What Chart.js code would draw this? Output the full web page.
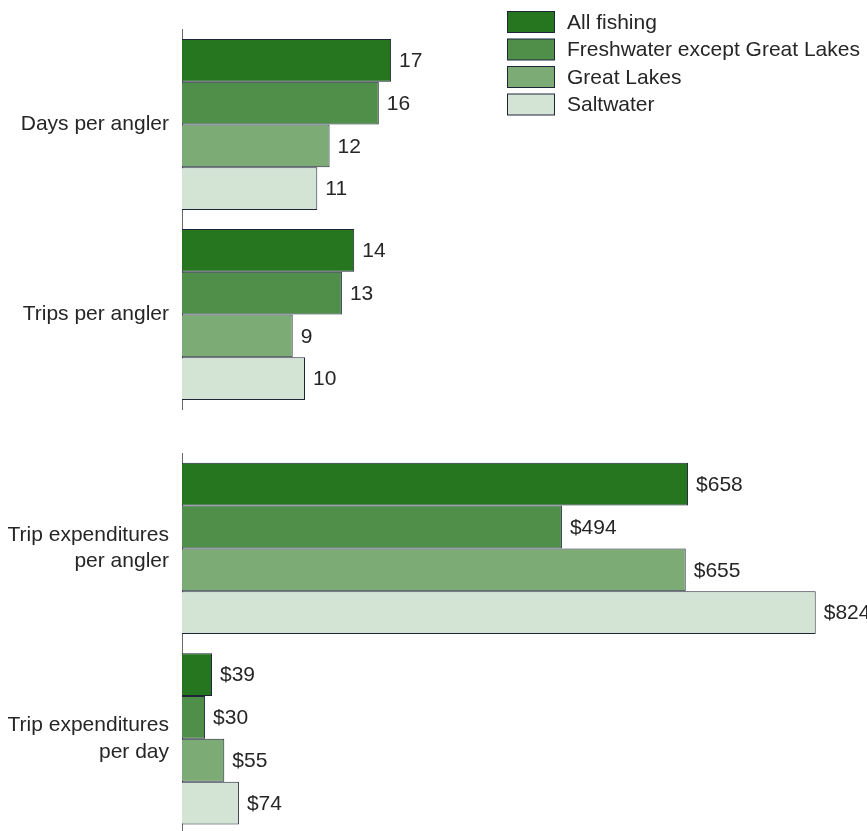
<!DOCTYPE html>
<html>
<head>
<meta charset="utf-8">
<script src="https://cdn.jsdelivr.net/npm/chart.js"></script>
<style>
  html, body { margin: 0; padding: 0; background: #fff; overflow: hidden; width: 867px; height: 831px; }
  canvas { position: absolute; left: 0; }
  #countChart { top: 0; }
  #spendChart { top: 440px; }
</style>
</head>
<body>
<canvas id="countChart" width="867" height="440"></canvas>
<canvas id="spendChart" width="867" height="400"></canvas>
<script>
// series + categories
var seriesNames = ['All fishing', 'Freshwater except Great Lakes', 'Great Lakes', 'Saltwater'];
var seriesColors = ['#26761f', '#4f8f4a', '#7dab76', '#d4e4d4'];

var countLabels = ['Days per angler', 'Trips per angler'];
var allFishingCounts = [17, 14];
var freshwaterCounts = [16, 13];
var greatLakesCounts = [12, 9];
var saltwaterCounts = [11, 10];

var spendLabels = [['Trip expenditures', 'per angler'], ['Trip expenditures', 'per day']];
var allFishingSpend = [658, 39];
var freshwaterSpend = [494, 30];
var greatLakesSpend = [655, 55];
var saltwaterSpend = [824, 74];

var textColor = '#262626';
var fontFamily = '"Liberation Sans", Arial, Helvetica, sans-serif';

var makeDatasets = (seriesValues) => {
  return seriesValues.map((vals, i) => ({
    label: seriesNames[i],
    data: vals,
    backgroundColor: seriesColors[i],
    borderColor: '#1f2438',
    borderWidth: 1,
    barPercentage: 1,
    categoryPercentage: 0.9
  }));
};

// number next to the end of every bar
var valueLabels = {
  id: 'valueLabels',
  afterDatasetsDraw: (chart) => {
    var ctx = chart.ctx;
    var prefix = chart.options.plugins.valueLabels.prefix || '';
    ctx.save();
    ctx.font = '21px ' + fontFamily;
    ctx.fillStyle = textColor;
    ctx.textAlign = 'left';
    ctx.textBaseline = 'middle';
    chart.data.datasets.forEach((ds, i) => {
      chart.getDatasetMeta(i).data.forEach((bar, j) => {
        ctx.fillText(prefix + ds.data[j], bar.x + 8, bar.y + 1);
      });
    });
    ctx.restore();
  }
};

// stacked legend in the top right corner
var boxLegend = {
  id: 'boxLegend',
  afterDraw: (chart) => {
    if (!chart.options.plugins.boxLegend.show) return;
    var ctx = chart.ctx;
    ctx.save();
    ctx.font = '21px ' + fontFamily;
    ctx.textBaseline = 'middle';
    chart.data.datasets.forEach((ds, i) => {
      var y = 11.5 + i * 27.5;
      ctx.fillStyle = ds.backgroundColor;
      ctx.fillRect(507.5, y, 47, 21);
      ctx.strokeStyle = '#1f2438';
      ctx.lineWidth = 1;
      ctx.strokeRect(507.5, y, 47, 21);
      ctx.fillStyle = textColor;
      ctx.fillText(ds.label, 567, y + 11.5);
    });
    ctx.restore();
  }
};

var makeOptions = (xMax, padding, prefix, showLegend) => ({
  indexAxis: 'y',
  responsive: false,
  animation: false,
  devicePixelRatio: 1,
  layout: { padding: padding },
  plugins: {
    legend: { display: false },
    tooltip: { enabled: false },
    valueLabels: { prefix: prefix },
    boxLegend: { show: showLegend }
  },
  scales: {
    x: { display: false, min: 0, max: xMax },
    y: {
      grid: { display: false, drawTicks: false },
      border: { display: true, color: '#6a6a6a', width: 1 },
      ticks: {
        color: textColor,
        padding: 13,
        autoSkip: false,
        font: { family: fontFamily, size: 21, lineHeight: 1.25 }
      },
      afterFit: (scale) => {
        // fixed gutter for the category names, no extra room for tall labels
        scale.width = 182;
        scale.paddingTop = 0;
        scale.paddingBottom = 0;
      }
    }
  }
});

// --------------------------------- DAYS / TRIPS ------------------------------
var countChart = new Chart(document.getElementById('countChart').getContext('2d'), {
  type: 'bar',
  data: {
    labels: countLabels,
    datasets: makeDatasets([allFishingCounts, freshwaterCounts, greatLakesCounts, saltwaterCounts])
  },
  options: makeOptions(50, { top: 29.5, bottom: 30.5, left: 0, right: 70 }, '', true),
  plugins: [valueLabels, boxLegend]
});

// --------------------------------- EXPENDITURES ------------------------------
var spendChart = new Chart(document.getElementById('spendChart').getContext('2d'), {
  type: 'bar',
  data: {
    labels: spendLabels,
    datasets: makeDatasets([allFishingSpend, freshwaterSpend, greatLakesSpend, saltwaterSpend])
  },
  options: makeOptions(850, { top: 13.25, bottom: 6, left: 0, right: 31.3 }, '$', false),
  plugins: [valueLabels, boxLegend]
});
</script>
</body>
</html>
